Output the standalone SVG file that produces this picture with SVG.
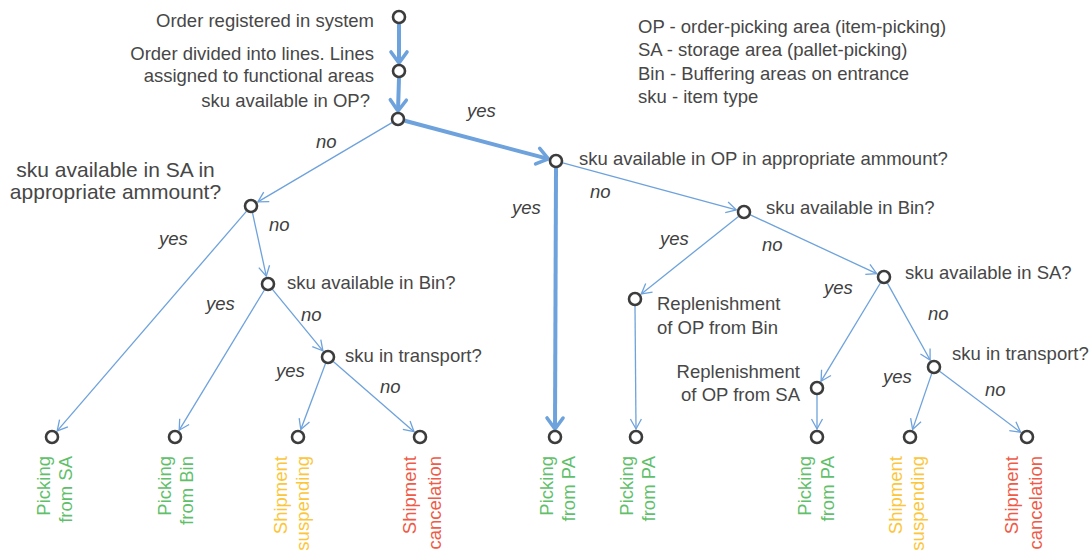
<svg xmlns="http://www.w3.org/2000/svg" width="1090" height="552" viewBox="0 0 1090 552">
  <style>
    .lbl { font-family: "Liberation Sans", Arial, sans-serif; font-size: 18.5px; fill: #474747; }
    .big { font-size: 21px; }
    .ans { font-family: "Liberation Sans", Arial, sans-serif; font-size: 18.5px; font-style: italic; fill: #404040; }
    .leaf { font-family: "Liberation Sans", Arial, sans-serif; font-size: 18.5px; text-anchor: end; }
    .ok { fill: #5fbf6a; }
    .wait { fill: #fcc63b; }
    .stop { fill: #f05a47; }
    .node { fill: #ffffff; stroke: #3c3c3c; stroke-width: 2.6; }
    .thin { stroke: #6ea2dc; stroke-width: 1.3; fill: none; marker-end: url(#arrThin); }
    .thick { stroke: #6ea2dc; stroke-width: 4; fill: none; marker-end: url(#arrThick); }
  </style>
  <defs>
    <marker id="arrThin" markerUnits="userSpaceOnUse" orient="auto" markerWidth="24" markerHeight="24" refX="0" refY="0" viewBox="-12 -12 24 24" overflow="visible">
      <path d="M-10,-5.5 L0,0 L-10,5.5" fill="none" stroke="#6ea2dc" stroke-width="1.3"/>
    </marker>
    <marker id="arrThick" markerUnits="userSpaceOnUse" orient="auto" markerWidth="30" markerHeight="30" refX="0" refY="0" viewBox="-15 -15 30 30" overflow="visible">
      <path d="M-11,-8 L0,0 L-11,8" fill="none" stroke="#6ea2dc" stroke-width="3.6" stroke-linecap="round" stroke-linejoin="round"/>
    </marker>
  </defs>

  <rect width="1090" height="552" fill="#ffffff"/>

  <!-- legend -->
  <g id="legend" class="lbl">
    <text x="638" y="33">OP - order-picking area (item-picking)</text>
    <text x="638" y="56">SA - storage area (pallet-picking)</text>
    <text x="638" y="79.5">Bin - Buffering areas on entrance</text>
    <text x="638" y="102.5">sku - item type</text>
  </g>

  <!-- connectors -->
  <g id="connectors">
    <line class="thick" x1="399" y1="24" x2="399" y2="63"/>
    <line class="thick" x1="399" y1="78" x2="398" y2="111"/>
    <line class="thick" x1="404.8" y1="120.8" x2="548.3" y2="158.9"/>
    <line class="thin" x1="392" y1="122.6" x2="257.9" y2="201.9"/>
    <line class="thick" x1="556" y1="168" x2="555" y2="429"/>
    <line class="thin" x1="562.8" y1="162.8" x2="736.3" y2="209.9"/>
    <line class="thin" x1="246.4" y1="211.3" x2="57.2" y2="430.9"/>
    <line class="thin" x1="252.5" y1="212.8" x2="266.3" y2="276.2"/>
    <line class="thin" x1="264.4" y1="290" x2="179.2" y2="430.2"/>
    <line class="thin" x1="272.4" y1="289.4" x2="322.9" y2="350.8"/>
    <line class="thin" x1="325.5" y1="363.6" x2="300.8" y2="429.5"/>
    <line class="thin" x1="333.3" y1="361.6" x2="414" y2="431.7"/>
    <line class="thin" x1="738.5" y1="216.4" x2="641.3" y2="294"/>
    <line class="thin" x1="750.3" y1="214.9" x2="876.7" y2="273.6"/>
    <line class="thin" x1="635" y1="306" x2="636" y2="429"/>
    <line class="thin" x1="880.4" y1="283" x2="821.1" y2="381.2"/>
    <line class="thin" x1="887.4" y1="283.1" x2="930.1" y2="360"/>
    <line class="thin" x1="817" y1="395" x2="817" y2="429"/>
    <line class="thin" x1="931.7" y1="373.6" x2="912.6" y2="429.4"/>
    <line class="thin" x1="939.6" y1="371.2" x2="1020.6" y2="432.2"/>
  </g>

  <!-- branch answers -->
  <g id="answers" class="ans">
    <text x="467" y="117">yes</text>
    <text x="316" y="148">no</text>
    <text x="512" y="214">yes</text>
    <text x="590" y="198">no</text>
    <text x="159" y="245">yes</text>
    <text x="269" y="231">no</text>
    <text x="206" y="310">yes</text>
    <text x="301" y="321">no</text>
    <text x="276" y="377">yes</text>
    <text x="380" y="393">no</text>
    <text x="660" y="245">yes</text>
    <text x="762" y="251">no</text>
    <text x="824" y="294">yes</text>
    <text x="928" y="320">no</text>
    <text x="883" y="383">yes</text>
    <text x="985" y="396">no</text>
  </g>

  <!-- decision and step nodes -->
  <g id="n-registered">
    <circle class="node" cx="399" cy="17" r="6"/>
    <text class="lbl" x="374" y="27" text-anchor="end">Order registered in system</text>
  </g>
  <g id="n-divided">
    <circle class="node" cx="399" cy="71" r="6"/>
    <text class="lbl" x="374" y="60" text-anchor="end">Order divided into lines. Lines</text>
    <text class="lbl" x="374" y="81.5" text-anchor="end">assigned to functional areas</text>
  </g>
  <g id="n-op">
    <circle class="node" cx="398" cy="119" r="6"/>
    <text class="lbl" x="370" y="107" text-anchor="end">sku available in OP?</text>
  </g>
  <g id="n-op-amount">
    <circle class="node" cx="556" cy="161" r="6"/>
    <text class="lbl" x="579" y="165">sku available in OP in appropriate ammount?</text>
  </g>
  <g id="n-sa-amount">
    <circle class="node" cx="251" cy="206" r="6"/>
    <text class="lbl big" x="115.5" y="177" text-anchor="middle">sku available in SA in</text>
    <text class="lbl big" x="115.5" y="199" text-anchor="middle">appropriate ammount?</text>
  </g>
  <g id="n-bin-left">
    <circle class="node" cx="268" cy="284" r="6"/>
    <text class="lbl" x="287" y="289">sku available in Bin?</text>
  </g>
  <g id="n-transport-left">
    <circle class="node" cx="328" cy="357" r="6"/>
    <text class="lbl" x="345" y="362">sku in transport?</text>
  </g>
  <g id="n-bin-right">
    <circle class="node" cx="744" cy="212" r="6"/>
    <text class="lbl" x="766" y="214">sku available in Bin?</text>
  </g>
  <g id="n-sa-right">
    <circle class="node" cx="884" cy="277" r="6"/>
    <text class="lbl" x="905" y="279">sku available in SA?</text>
  </g>
  <g id="n-repl-bin">
    <circle class="node" cx="635" cy="299" r="6"/>
    <text class="lbl" x="657" y="310">Replenishment</text>
    <text class="lbl" x="657" y="334">of OP from Bin</text>
  </g>
  <g id="n-repl-sa">
    <circle class="node" cx="817" cy="388" r="6"/>
    <text class="lbl" x="800" y="378" text-anchor="end">Replenishment</text>
    <text class="lbl" x="800" y="401" text-anchor="end">of OP from SA</text>
  </g>
  <g id="n-transport-right">
    <circle class="node" cx="934" cy="367" r="6"/>
    <text class="lbl" x="952" y="360">sku in transport?</text>
  </g>

  <!-- outcome leaves -->
  <g id="leaf-pick-sa">
    <circle class="node" cx="52" cy="437" r="6"/>
    <text class="leaf ok" transform="translate(50,456) rotate(-90)">Picking</text>
    <text class="leaf ok" transform="translate(72,456) rotate(-90)">from SA</text>
  </g>
  <g id="leaf-pick-bin">
    <circle class="node" cx="175" cy="437" r="6"/>
    <text class="leaf ok" transform="translate(171,456) rotate(-90)">Picking</text>
    <text class="leaf ok" transform="translate(193,456) rotate(-90)">from Bin</text>
  </g>
  <g id="leaf-suspend-left">
    <circle class="node" cx="298" cy="437" r="6"/>
    <text class="leaf wait" transform="translate(287,456) rotate(-90)">Shipment</text>
    <text class="leaf wait" transform="translate(309,456) rotate(-90)">suspending</text>
  </g>
  <g id="leaf-cancel-left">
    <circle class="node" cx="420" cy="437" r="6"/>
    <text class="leaf stop" transform="translate(416,456) rotate(-90)">Shipment</text>
    <text class="leaf stop" transform="translate(441,456) rotate(-90)">cancelation</text>
  </g>
  <g id="leaf-pick-pa-1">
    <circle class="node" cx="555" cy="437" r="6"/>
    <text class="leaf ok" transform="translate(553,456) rotate(-90)">Picking</text>
    <text class="leaf ok" transform="translate(575,456) rotate(-90)">from PA</text>
  </g>
  <g id="leaf-pick-pa-2">
    <circle class="node" cx="636" cy="437" r="6"/>
    <text class="leaf ok" transform="translate(633,456) rotate(-90)">Picking</text>
    <text class="leaf ok" transform="translate(655,456) rotate(-90)">from PA</text>
  </g>
  <g id="leaf-pick-pa-3">
    <circle class="node" cx="817" cy="437" r="6"/>
    <text class="leaf ok" transform="translate(811,456) rotate(-90)">Picking</text>
    <text class="leaf ok" transform="translate(834,456) rotate(-90)">from PA</text>
  </g>
  <g id="leaf-suspend-right">
    <circle class="node" cx="910" cy="437" r="6"/>
    <text class="leaf wait" transform="translate(902,456) rotate(-90)">Shipment</text>
    <text class="leaf wait" transform="translate(924,456) rotate(-90)">suspending</text>
  </g>
  <g id="leaf-cancel-right">
    <circle class="node" cx="1027" cy="437" r="6"/>
    <text class="leaf stop" transform="translate(1018,456) rotate(-90)">Shipment</text>
    <text class="leaf stop" transform="translate(1042,456) rotate(-90)">cancelation</text>
  </g>
</svg>
